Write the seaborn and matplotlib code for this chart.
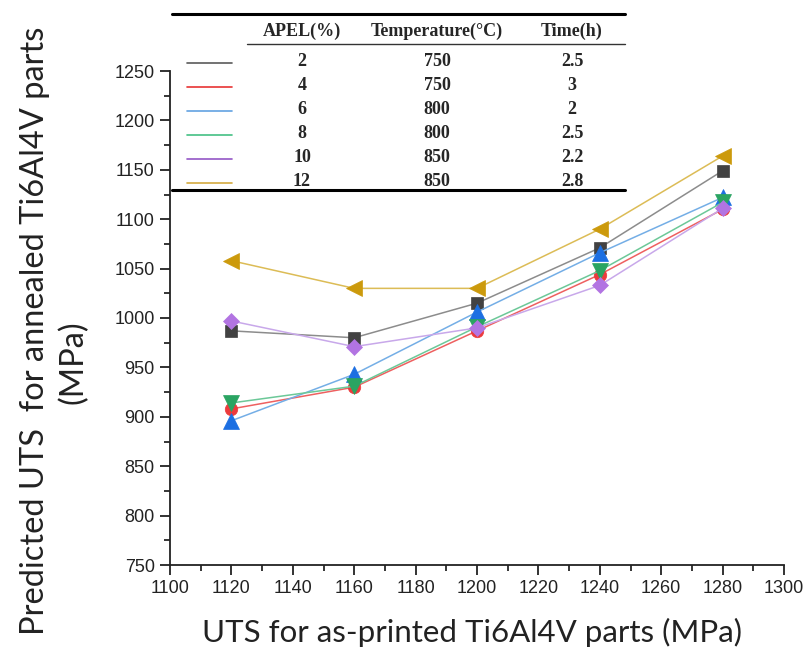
import matplotlib
matplotlib.use("Agg")
import matplotlib.pyplot as plt
from matplotlib.lines import Line2D
from matplotlib.ticker import MultipleLocator
import seaborn as sns
import pandas as pd

# UTS of as-printed parts (MPa)
uts_printed = [1120, 1160, 1200, 1240, 1280]

# Predicted UTS after annealing for each APEL condition (MPa)
uts_apel2 = [987, 980, 1015, 1071, 1149]
uts_apel4 = [908, 930, 987, 1044, 1110]
uts_apel6 = [896, 943, 1006, 1066, 1122]
uts_apel8 = [914, 931, 991, 1048, 1117]
uts_apel10 = [997, 971, 990, 1033, 1111]
uts_apel12 = [1058, 1030, 1030, 1090, 1164]

# Annealing conditions listed in the key table
apel = ["2", "4", "6", "8", "10", "12"]
temperature = ["750", "750", "800", "800", "850", "850"]
time_h = ["2.5", "3", "2", "2.5", "2.2", "2.8"]

series = [uts_apel2, uts_apel4, uts_apel6, uts_apel8, uts_apel10, uts_apel12]
line_colors = ["#8c8c8c", "#ee6060", "#74aee6", "#6cc898", "#c8a8ea", "#dcbc56"]
marker_colors = ["#424242", "#ec3a3c", "#1c6fe2", "#2aa462", "#b274e2", "#cc9a0c"]
key_colors = ["#5a5a5a", "#e83434", "#62a2e2", "#44c084", "#9456c6", "#d4aa40"]
markers = ["s", "o", "^", "v", "D", "<"]
msizes = [9, 9, 11, 11, 8, 11]

sns.set_style("ticks")
plt.rcParams["font.family"] = ["Liberation Sans", "DejaVu Sans"]

W, H = 806, 660
fig = plt.figure(figsize=(W / 100, H / 100), dpi=100)
ax = fig.add_axes([170 / W, 1 - 565 / H, (784 - 170) / W, (565 - 71) / H])

for i, vals in enumerate(series):
    df = pd.DataFrame({"x": uts_printed, "y": vals})
    sns.lineplot(data=df, x="x", y="y", ax=ax, color=line_colors[i],
                 linewidth=1.1, marker=markers[i], markersize=msizes[i],
                 markerfacecolor=marker_colors[i], markeredgecolor=marker_colors[i],
                 markeredgewidth=0.5, zorder=3 + i)

ax.set_xlim(1100, 1300)
ax.set_ylim(750, 1250)
ax.xaxis.set_major_locator(MultipleLocator(20))
ax.xaxis.set_minor_locator(MultipleLocator(10))
ax.yaxis.set_major_locator(MultipleLocator(50))
ax.yaxis.set_minor_locator(MultipleLocator(25))
ax.tick_params(which="major", direction="out", length=7, width=1.3,
               labelsize=13, colors="#222222", pad=4)
ax.tick_params(which="minor", direction="out", length=4, width=1.3)
for s in ["top", "right"]:
    ax.spines[s].set_visible(False)
for s in ["left", "bottom"]:
    ax.spines[s].set_linewidth(1.3)
    ax.spines[s].set_color("#222222")
ax.set_xlabel("")
ax.set_ylabel("")

label_font = ["Lato", "DejaVu Sans"]
fig.text(472 / W, 1 - 632 / H, "UTS for as-printed Ti6Al4V parts (MPa)",
         ha="center", va="center", fontsize=22.5, family=label_font, color="#222222")
fig.text(35 / W, 1 - 331 / H, "Predicted UTS  for annealed Ti6Al4V parts",
         ha="center", va="center", rotation=90, fontsize=23.5, family=label_font,
         color="#222222")
fig.text(73 / W, 1 - 362 / H, "(MPa)", ha="center", va="center", rotation=90,
         fontsize=23.5, family=label_font, color="#222222")

# Key table drawn over the top of the plot
serif = ["Liberation Serif", "DejaVu Serif"]
def fx(px):
    return px / W
def fy(py):
    return 1 - py / H

fig.add_artist(Line2D([fx(172), fx(625)], [fy(14), fy(14)], color="black", lw=2.2))
fig.add_artist(Line2D([fx(247), fx(625)], [fy(44), fy(44)], color="#333333", lw=1.0))
fig.add_artist(Line2D([fx(172), fx(625)], [fy(190), fy(190)], color="black", lw=2.2))

col_x = [302, 437, 572]
headers = ["APEL(%)", "Temperature(°C)", "Time(h)"]
for cx, htxt in zip(col_x, headers):
    fig.text(fx(cx), fy(31), htxt, ha="center", va="center", fontsize=13,
             fontweight="bold", family=serif)

row_y = [63, 87, 111, 135, 159, 183]
for i, ry in enumerate(row_y):
    fig.add_artist(Line2D([fx(187), fx(232)], [fy(ry), fy(ry)],
                          color=key_colors[i], lw=1.2))
    for cx, txt in zip(col_x, [apel[i], temperature[i], time_h[i]]):
        fig.text(fx(cx), fy(ry - 1), txt, ha="center", va="center", fontsize=13,
                 fontweight="bold", family=serif)

fig.savefig("out.png", dpi=100)
